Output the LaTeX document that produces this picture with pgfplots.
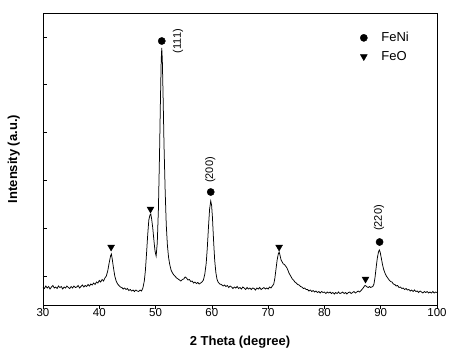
\documentclass[border=0pt]{standalone}
\usepackage{fontspec}
\setmainfont{Liberation Sans}
\usepackage{pgfplots}
\pgfplotsset{compat=1.18}
\begin{document}
\begin{tikzpicture}[x=1pt,y=1pt]
\path[use as bounding box] (0,0) rectangle (457,357);
\begin{axis}[
  at={(43pt,52pt)}, anchor=south west,
  scale only axis, width=394pt, height=292pt,
  xmin=30, xmax=100, ymin=0, ymax=292,
  xtick={30,40,...,100},
  ytick={29,77,125,173,221,268},
  yticklabels={},
  xtick pos=bottom, ytick pos=left,
  x tick style={/pgfplots/tick align=outside},
  y tick style={/pgfplots/tick align=inside},
  major tick length=4pt,
  tick style={black, line width=0.7pt},
  axis line style={line width=0.9pt},
  /pgf/number format/assume math mode=true,
  tick label style={font=\fontsize{11.5}{13}\selectfont},
  xlabel={\textbf{2 Theta (degree)}},
  ylabel={\textbf{Intensity (a.u.)}},
  label style={font=\fontsize{13}{15}\selectfont},
  xlabel style={at={(axis description cs:0.5,-0.127)}, anchor=center},
  ylabel style={at={(axis description cs:-0.074,0.5)}, anchor=center},
  legend style={draw=none, fill=none, at={(0.797,0.948)}, anchor=north west,
    font=\fontsize{13}{15}\selectfont, row sep=4pt,
    /tikz/every odd column/.append style={column sep=12pt}},
  legend cell align=left,
]
\addplot[black, line width=0.75pt, forget plot] table {
30.0 18
30.25 16.5
30.5 19
30.75 17
31.0 18.5
31.25 16
31.5 18
31.75 19.5
32.0 17
32.25 18
32.5 16.5
32.75 19
33.0 17.5
33.25 18.5
33.5 16
33.75 18
34.0 17
34.25 19
34.5 17.5
34.75 16.5
35.0 18.5
35.25 17
35.5 19
35.75 17.5
36.0 18
36.25 19.5
36.5 17
36.75 18.5
37.0 20
37.25 18
37.5 19.5
37.75 18.5
38.0 20.5
38.25 19
38.5 21
38.75 20
39.0 22
39.25 20.5
39.5 23
39.75 22
40.0 24.5
40.25 23
40.5 25.5
40.75 24
41.0 27
41.25 29
41.5 34
41.75 42
42.0 49
42.15 51
42.3 46
42.5 38
42.75 29
43.0 24
43.25 21
43.5 19.5
43.75 18
44.0 17.5
44.25 16
44.5 17
44.75 15.5
45.0 16.5
45.25 14.5
45.5 15.5
45.75 14
46.0 15
46.25 13.5
46.5 15
46.75 14
47.0 13.5
47.25 15
47.5 14
47.75 17
48.0 24
48.2 35
48.4 52
48.6 70
48.8 85
49.0 90
49.15 91
49.3 86
49.5 77
49.7 65
49.9 54
50.1 49
50.3 62
50.5 95
50.7 150
50.85 200
51.0 245
51.1 257
51.2 245
51.35 205
51.5 160
51.7 115
51.9 80
52.1 60
52.3 48
52.5 41
52.75 35
53.0 32
53.25 30
53.5 28.5
53.75 27
54.0 26
54.25 25
54.5 24
54.75 25.5
55.0 26
55.25 28
55.5 27
55.75 25
56.0 25.5
56.25 23.5
56.5 24
56.75 22
57.0 23
57.25 21.5
57.5 22.5
57.75 21
58.0 22
58.25 23
58.5 25
58.75 31
59.0 42
59.2 58
59.4 78
59.6 96
59.8 104
59.95 100
60.1 88
60.3 65
60.5 45
60.7 33
60.9 26
61.1 23
61.4 21
61.7 20.5
62.0 19
62.25 20
62.5 18.5
62.75 19.5
63.0 17.5
63.25 19
63.5 18
63.75 16.5
64.0 18
64.25 17
64.5 18.5
64.75 16.5
65.0 17.5
65.25 16
65.5 18
65.75 17
66.0 15.5
66.25 17.5
66.5 16
66.75 17
67.0 15.5
67.25 17
67.5 16.5
67.75 15
68.0 17
68.25 16
68.5 17.5
68.75 15.5
69.0 16.5
69.25 17.5
69.5 16
69.75 17
70.0 16
70.25 18
70.5 17
70.75 19
71.0 21
71.2 27
71.4 36
71.6 45
71.8 51
71.95 53
72.1 50
72.3 45
72.5 43
72.7 41
72.9 40.5
73.1 39
73.3 37.5
73.5 35
73.7 32
73.9 30
74.1 28
74.3 26
74.5 25
74.75 23
75.0 22
75.25 20.5
75.5 20
75.75 18.5
76.0 18
76.25 16.5
76.5 17
76.75 15.5
77.0 15.5
77.25 14
77.5 15
77.75 13.5
78.0 14.5
78.25 13
78.5 14
78.75 12.5
79.0 13.5
79.25 12
79.5 13.5
79.75 12.5
80.0 13
80.25 11.5
80.5 13
80.75 12
81.0 13
81.25 11.5
81.5 12.5
81.75 11
82.0 12.5
82.25 11.5
82.5 13
82.75 11.5
83.0 12
83.25 13
83.5 11.5
83.75 12.5
84.0 11
84.25 12.5
84.5 13
84.75 11.5
85.0 12.5
85.25 13.5
85.5 12
85.75 13
86.0 14
86.25 13
86.5 14.5
86.75 16
87.0 18
87.2 19.5
87.4 19
87.6 18
87.8 17.5
88.0 18.5
88.2 17.5
88.4 18
88.6 18.5
88.8 21
89.0 28
89.2 38
89.4 47
89.6 53
89.75 55
89.9 53
90.1 47
90.3 41
90.5 36
90.75 32
91.0 29
91.25 27
91.5 25
91.75 23.5
92.0 23
92.25 21
92.5 20.5
92.75 19
93.0 19.5
93.25 17.5
93.5 18
93.75 16.5
94.0 17
94.25 15.5
94.5 16.5
94.75 15
95.0 15.5
95.25 14
95.5 15
95.75 13.5
96.0 15
96.25 13.5
96.5 14
96.75 12.5
97.0 14
97.25 13
97.5 12
97.75 13.5
98.0 12.5
98.25 13.5
98.5 12
98.75 13
99.0 12
99.25 13.5
99.5 12
99.75 13
100.0 12.5
};
\addplot[only marks, mark=*, mark size=3.6pt, black] coordinates {
(51.1,264) (59.8,113) (89.8,63)};
\addlegendentry{FeNi}
\addplot[only marks, mark=triangle*, mark size=4pt, black, mark options={rotate=180}] coordinates {
(42.1,58) (49.1,96) (71.95,58) (87.3,26)};
\addlegendentry{FeO}
\node[rotate=90, font=\fontsize{11}{12}\selectfont] at (axis cs:54,264) {(111)};
\node[rotate=90, font=\fontsize{11}{12}\selectfont] at (axis cs:59.7,135) {(200)};
\node[rotate=90, font=\fontsize{11}{12}\selectfont] at (axis cs:89.7,87) {(220)};
\end{axis}
\end{tikzpicture}
\end{document}
